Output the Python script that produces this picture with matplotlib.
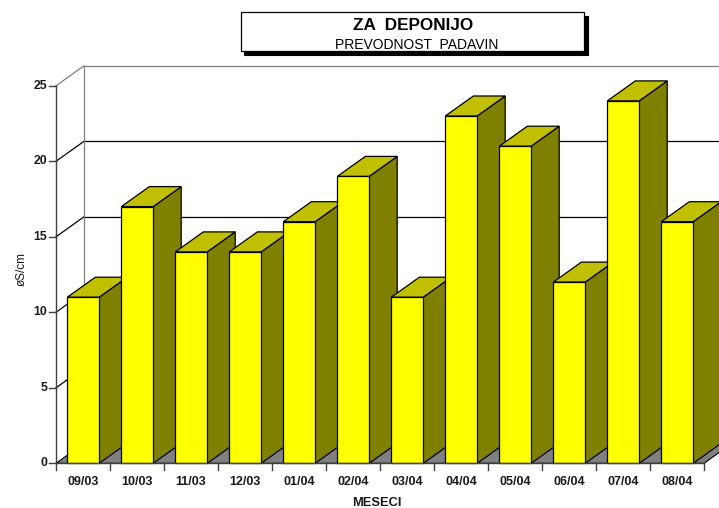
import matplotlib
matplotlib.use("Agg")
import matplotlib.pyplot as plt
from matplotlib.patches import Polygon, Rectangle

# ---------------- data ----------------
categories = ["09/03", "10/03", "11/03", "12/03", "01/04", "02/04",
              "03/04", "04/04", "05/04", "06/04", "07/04", "08/04"]
values = [11, 17, 14, 14, 16, 19, 11, 23, 21, 12, 24, 16]
y_ticks = [0, 5, 10, 15, 20, 25]
title = "ZA  DEPONIJO"
subtitle = "PREVODNOST  PADAVIN"
x_label = "MESECI"
y_label = "øS/cm"

# ---------------- layout ----------------
W, H = 719, 508
X0_PX, CAT_PX = 56.0, 54.0        # front x-axis origin and category width (px)
Y0_PX, VAL_PX = 44.7, 15.1        # zero line from bottom and px per unit
DX = 28.0 / CAT_PX                # depth offset in category units
DY = 20.0 / VAL_PX                # depth offset in value units
BAR_L, BAR_W = 0.21, 0.59         # bar front face offset/width in category units
YMAX = 25

plt.rcParams['font.family'] = ['Liberation Sans', 'DejaVu Sans']

fig = plt.figure(figsize=(W / 100, H / 100), dpi=100)
ax = fig.add_axes([0, 0, 1, 1])
ax.set_xlim(-X0_PX / CAT_PX, (W - X0_PX) / CAT_PX)
ax.set_ylim(-Y0_PX / VAL_PX, (H - Y0_PX) / VAL_PX)
ax.axis("off")

n = len(categories)
xmax = n
far = (W - X0_PX) / CAT_PX + 1

# walls
ax.add_patch(Polygon([(0, 0), (DX, DY), (DX, YMAX + DY), (0, YMAX)],
                     closed=True, facecolor="white", edgecolor="none", zorder=1))
for v in y_ticks[1:]:
    col = "#808080" if v == YMAX else "black"
    ax.plot([0, DX], [v, v + DY], color=col, lw=0.9, zorder=2)
    ax.plot([DX, far], [v + DY, v + DY], color=col, lw=0.9, zorder=2)
ax.plot([DX, DX], [DY, YMAX + DY], color="#808080", lw=0.9, zorder=2)

# floor
ax.add_patch(Polygon([(0, 0), (xmax, 0), (xmax + DX, DY), (DX, DY)],
                     closed=True, facecolor="#808080", edgecolor="black",
                     lw=0.8, zorder=3))

# bars
for i, v in enumerate(values):
    l = i + BAR_L
    r = l + BAR_W
    side = [(r, 0), (r + DX, DY), (r + DX, v + DY), (r, v)]
    top = [(l, v), (r, v), (r + DX, v + DY), (l + DX, v + DY)]
    front = [(l, 0), (r, 0), (r, v), (l, v)]
    z = 4 + i * 0.1
    ax.add_patch(Polygon(side, closed=True, facecolor="#808000",
                         edgecolor="black", lw=0.9, zorder=z))
    ax.add_patch(Polygon(top, closed=True, facecolor="#C0C000",
                         edgecolor="black", lw=0.9, zorder=z + 0.01))
    ax.add_patch(Polygon(front, closed=True, facecolor="#FFFF00",
                         edgecolor="black", lw=0.9, zorder=z + 0.02))

# front axes
tk = 7.0 / CAT_PX
tky = 7.0 / VAL_PX
ax.plot([0, 0], [0, YMAX], color="#404040", lw=1.0, zorder=10)
ax.plot([0, xmax], [0, 0], color="#404040", lw=1.0, zorder=10)
for v in y_ticks:
    ax.plot([-tk, 0], [v, v], color="#404040", lw=1.0, zorder=10)
    ax.text(-tk - 1.5 / CAT_PX, v, str(v), ha="right", va="center",
            fontsize=8.8, fontweight="bold", color="#1a1a1a", zorder=10)
for i in range(n + 1):
    ax.plot([i, i], [0, -tky], color="#404040", lw=1.0, zorder=10)
for i, c in enumerate(categories):
    ax.text(i + 0.5, -19 / VAL_PX, c, ha="center", va="center",
            fontsize=9, fontweight="bold", color="#1a1a1a", zorder=10)

ax.text((377 - X0_PX) / CAT_PX, -39.5 / VAL_PX, x_label, ha="center",
        va="center", fontsize=9.3, fontweight="bold", color="#1a1a1a")
ax.text((22 - X0_PX) / CAT_PX, (463.3 - 269.5) / VAL_PX, y_label, ha="center",
        va="center", rotation=90, fontsize=8.5, color="#1a1a1a")

# title box with shadow
bx0, bx1, by0, by1 = 241, 584, 12, 51
sh = 3.5
fig.patches.append(Rectangle(((bx0 + sh) / W, 1 - (by1 + sh) / H),
                             (bx1 - bx0) / W, (by1 - by0) / H,
                             transform=fig.transFigure, facecolor="black",
                             edgecolor="black", lw=0.8, zorder=20))
fig.patches.append(Rectangle((bx0 / W, 1 - by1 / H), (bx1 - bx0) / W,
                             (by1 - by0) / H, transform=fig.transFigure,
                             facecolor="white", edgecolor="black", lw=0.9,
                             zorder=21))
fig.text(413.5 / W, 1 - 26 / H, title, ha="center", va="center",
         fontsize=12.3, fontweight="bold", zorder=22)
fig.text(417 / W, 1 - 45 / H, subtitle, ha="center",
         va="center", fontsize=10, zorder=22)

fig.savefig("out.png", dpi=100)
